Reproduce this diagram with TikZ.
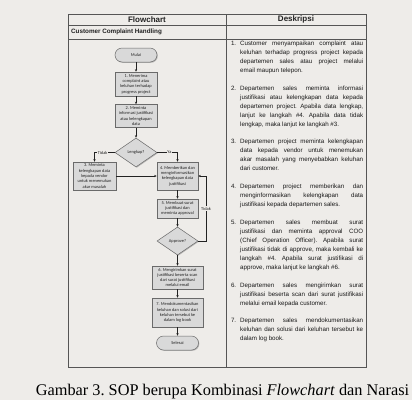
\documentclass[tikz,border=0pt]{standalone}
\usepackage{fontspec}
\setmainfont{Liberation Serif}
\newfontfamily\arialfont{Liberation Sans}
\newfontfamily\calfont{Carlito}
\usetikzlibrary{arrows.meta,positioning,shapes.geometric,shadows}
\definecolor{pagebg}{HTML}{EEECE9}
\definecolor{rulecol}{HTML}{555555}
\definecolor{boxfill}{HTML}{D9D9D9}
\definecolor{boxline}{HTML}{6A6A6A}
\definecolor{ink}{HTML}{222222}
\frenchspacing

\begin{document}
\begin{tikzpicture}[x=1pt,y=-1pt,
  every node/.style={font=\calfont\fontsize{4.4}{5.3}\selectfont,text=ink},
  stepbox/.style={draw=boxline,fill=boxfill,line width=.5pt,align=center,inner sep=.5pt,
    drop shadow={shadow xshift=.8pt,shadow yshift=-.8pt,fill=black!50}},
  terminal/.style={stepbox,rounded corners=7pt,minimum width=42pt,minimum height=14pt},
  decision/.style={stepbox,shape=diamond,aspect=1.45,inner sep=0pt},
  flow/.style={draw=ink,line width=.5pt,-{Stealth[length=2.6pt,width=2.2pt]}},
  lbl/.style={fill=pagebg,inner sep=.6pt},
  desc/.style={font=\arialfont\fontsize{6.2}{8.95}\selectfont,text=black!90,text width=123pt,align=justify,inner sep=0pt}]
\useasboundingbox (0,0) rectangle (412,400);
\fill[pagebg] (0,0) rectangle (412,400);

% table
\draw[rulecol,line width=.8pt] (68,14) rectangle (366,367);
\draw[rulecol,line width=.8pt] (68,25) -- (366,25);
\draw[rulecol,line width=.8pt] (68,39) -- (366,39);
\draw[rulecol,line width=.8pt] (226,14) -- (226,367);
\node[font=\arialfont\bfseries\fontsize{8}{9}\selectfont] (hflow) at (147,19.8) {Flowchart};
\node[font=\arialfont\bfseries\fontsize{8}{9}\selectfont] (hdesk) at (296,19.8) {Deskripsi};
\node[font=\arialfont\bfseries\fontsize{6.3}{7}\selectfont,anchor=west,inner sep=0pt] (hproc) at (71,32) {Customer Complaint Handling};

% flowchart
\node[terminal] (mulai) at (136,55) {Mulai};
\node[stepbox,minimum width=42pt,minimum height=24pt] (s1) at (136,84) {1. Menerima\\complaint atau\\keluhan terhadap\\progress project};
\node[stepbox,minimum width=42pt,minimum height=23pt] (s2) at (136,116) {2. Meminta\\informasi justifikasi\\atau kelengkapan\\data};
\node[decision,minimum width=42pt,minimum height=29pt] (lengkap) at (136,152.5) {Lengkap?};
\node[stepbox,minimum width=43pt,minimum height=28pt] (s3) at (94.5,176) {3. Meminta\\kelengkapan data\\kepada vendor\\untuk menemukan\\akar masalah};
\node[stepbox,minimum width=41pt,minimum height=28pt] (s4) at (177.5,176) {4. Memberikan dan\\menginformasikan\\kelengkapan data\\justifikasi};
\node[stepbox,minimum width=41pt,minimum height=19pt] (s5) at (177.5,208.5) {5. Membuat surat\\justifikasi dan\\meminta approval};
\node[decision,minimum width=41pt,minimum height=28pt] (approve) at (177.5,241) {Approve?};
\node[stepbox,minimum width=51pt,minimum height=23pt] (s6) at (177.5,277.5) {6. Mengirimkan surat\\justifikasi beserta scan\\dari surat justifikasi\\melalui email};
\node[stepbox,minimum width=51pt,minimum height=29pt] (s7) at (177.5,312.5) {7. Mendokumentasikan\\keluhan dan solusi dari\\keluhan tersebut ke\\dalam log book};
\node[terminal] (selesai) at (177.5,343) {Selesai};
\coordinate (loop) at (206,241);

\draw[flow] (mulai) -- (s1);
\draw[flow] (s1) -- (s2);
\draw[flow] (s2) -- (lengkap);
\draw[flow] (lengkap.west) -| node[pos=.3,lbl] {Tidak} (s3.north);
\draw[flow] (lengkap.east) -| node[pos=.3,lbl] {Ya} (s4.north);
\draw[flow] (s3) -- (s4);
\draw[flow] (s4) -- (s5);
\draw[flow] (s5) -- (approve);
\draw[flow] (approve.east) -- (loop) |- node[pos=.25,lbl] {Tidak} (s4.east);
\draw[flow] (approve) -- (s6);
\draw[flow] (s6) -- (s7);
\draw[flow] (s7) -- (selesai);

% deskripsi
\node[desc,anchor=base west] (deskripsi) at (240,45.5) {\setlength{\parskip}{8.95pt}\tolerance=10000\hyphenpenalty=10000
\noindent\llap{1.\hspace{4pt}}Customer menyampaikan complaint atau\linebreak keluhan terhadap progress project kepada\linebreak departemen sales atau project melalui\linebreak email maupun telepon.\par
\noindent\llap{2.\hspace{4pt}}Departemen sales meminta informasi\linebreak justifikasi atau kelengkapan data kepada\linebreak departemen project. Apabila data lengkap,\linebreak lanjut ke langkah \#4. Apabila data tidak\linebreak lengkap, maka lanjut ke langkah \#3.\par
\noindent\llap{3.\hspace{4pt}}Departemen project meminta kelengkapan\linebreak data kepada vendor untuk menemukan\linebreak akar masalah yang menyebabkan keluhan\linebreak dari customer.\par
\noindent\llap{4.\hspace{4pt}}Departemen project memberikan dan\linebreak menginformasikan kelengkapan data\linebreak justifikasi kepada departemen sales.\par
\noindent\llap{5.\hspace{4pt}}Departemen sales membuat surat\linebreak justifikasi dan meminta approval COO\linebreak (Chief Operation Officer). Apabila surat\linebreak justifikasi tidak di approve, maka kembali ke\linebreak langkah \#4. Apabila surat justifikasi di\linebreak approve, maka lanjut ke langkah \#6.\par
\noindent\llap{6.\hspace{4pt}}Departemen sales mengirimkan surat\linebreak justifikasi beserta scan dari surat justifikasi\linebreak melalui email kepada customer.\par
\noindent\llap{7.\hspace{4pt}}Departemen sales mendokumentasikan\linebreak keluhan dan solusi dari keluhan tersebut ke\linebreak dalam log book.\par};

% caption
\node[font=\rmfamily\fontsize{16.3}{18}\selectfont,text=black,anchor=base] (caption) at (222.5,395) {Gambar 3. SOP berupa Kombinasi \textit{Flowchart} dan Narasi};
\end{tikzpicture}
\end{document}
